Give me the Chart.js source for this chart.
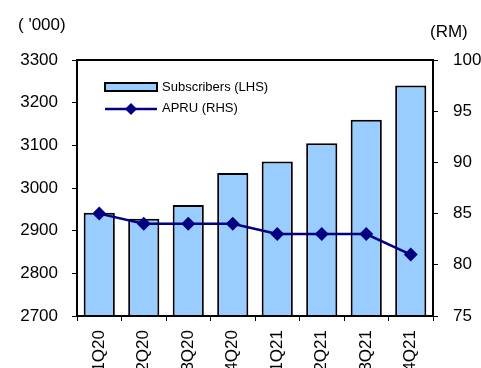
<!DOCTYPE html>
<html>
<head>
<meta charset="utf-8">
<script src="https://cdn.jsdelivr.net/npm/chart.js@4"></script>
<style>
  body { margin: 0; background: #fff; }
  canvas { display: block; }
</style>
</head>
<body>
<canvas id="subsChart" width="481" height="368"></canvas>
<script>
const labels = ['1Q20', '2Q20', '3Q20', '4Q20', '1Q21', '2Q21', '3Q21', '4Q21'];
const subscribers = [2942, 2928, 2960, 3035, 3062, 3105, 3160, 3240];
const apru = [85, 84, 84, 84, 83, 83, 83, 81];
const leftTicks = [2700, 2800, 2900, 3000, 3100, 3200, 3300];
const rightTicks = [75, 80, 85, 90, 95, 100];

document.addEventListener("DOMContentLoaded", function () {
  const font = '"Liberation Sans", Arial, sans-serif';

  // legend, axis units and plot frame
  const extras = {
    id: 'extras',
    afterDraw(chart) {
      const ctx = chart.ctx;
      const area = chart.chartArea;
      ctx.save();
      ctx.strokeStyle = '#000';
      ctx.lineWidth = 2;
      ctx.strokeRect(area.left, area.top, area.right - area.left, area.bottom - area.top);

      ctx.fillStyle = '#000';
      ctx.font = '17px ' + font;
      ctx.textBaseline = 'middle';
      ctx.textAlign = 'left';
      ctx.fillText("( '000)", 18, 25);
      ctx.fillText('(RM)', 430, 32);

      // legend
      ctx.fillStyle = '#99CCFF';
      ctx.fillRect(105, 83, 52, 8);
      ctx.strokeRect(105, 83, 52, 8);
      ctx.strokeStyle = '#000080';
      ctx.lineWidth = 2.5;
      ctx.beginPath();
      ctx.moveTo(105, 109);
      ctx.lineTo(157, 109);
      ctx.stroke();
      ctx.fillStyle = '#000080';
      ctx.beginPath();
      ctx.moveTo(131, 103);
      ctx.lineTo(137, 109);
      ctx.lineTo(131, 115);
      ctx.lineTo(125, 109);
      ctx.closePath();
      ctx.fill();

      ctx.fillStyle = '#000';
      ctx.font = '13px ' + font;
      ctx.fillText('Subscribers (LHS)', 162, 87);
      ctx.fillText('APRU (RHS)', 162, 108);
      ctx.restore();
    }
  };

  const ctx = document.getElementById('subsChart').getContext('2d');
  new Chart(ctx, {
    data: {
      labels: labels,
      datasets: [
        {
          type: 'line',
          label: 'APRU (RHS)',
          data: apru,
          yAxisID: 'y2',
          borderColor: '#000080',
          backgroundColor: '#000080',
          borderWidth: 2.5,
          pointStyle: 'rectRot',
          pointRadius: 7,
          pointBorderWidth: 0,
          order: 0
        },
        {
          type: 'bar',
          label: 'Subscribers (LHS)',
          data: subscribers,
          yAxisID: 'y',
          backgroundColor: '#99CCFF',
          borderColor: '#000',
          borderWidth: 2,
          categoryPercentage: 1,
          barPercentage: 0.7,
          order: 1
        }
      ]
    },
    options: {
      responsive: false,
      animation: false,
      devicePixelRatio: 1,
      layout: { padding: { top: 60, left: 0, right: 0, bottom: 0 } },
      plugins: { legend: { display: false }, tooltip: { enabled: false } },
      scales: {
        x: {
          offset: true,
          grid: { display: true, drawOnChartArea: false, offset: true, tickLength: 5, color: '#000', lineWidth: 1 },
          border: { display: false },
          ticks: { color: '#000', font: { family: font, size: 17 }, maxRotation: 90, minRotation: 90, padding: 9 },
          afterFit(scale) { scale.height = 52; }
        },
        y: {
          position: 'left',
          min: 2700,
          max: 3300,
          afterBuildTicks(scale) { scale.ticks = leftTicks.map(v => ({ value: v })); },
          grid: { drawOnChartArea: false, tickLength: 5, color: '#000' },
          border: { display: false },
          ticks: { color: '#000', font: { family: font, size: 17 }, padding: 14, callback: v => String(v) },
          afterFit(scale) { scale.width = 77; }
        },
        y2: {
          position: 'right',
          min: 75,
          max: 100,
          afterBuildTicks(scale) { scale.ticks = rightTicks.map(v => ({ value: v })); },
          grid: { drawOnChartArea: false, tickLength: 5, color: '#000' },
          border: { display: false },
          ticks: { color: '#000', font: { family: font, size: 17 }, padding: 15, callback: v => String(v) },
          afterFit(scale) { scale.width = 48; }
        }
      }
    },
    plugins: [extras]
  });
});
</script>
</body>
</html>
